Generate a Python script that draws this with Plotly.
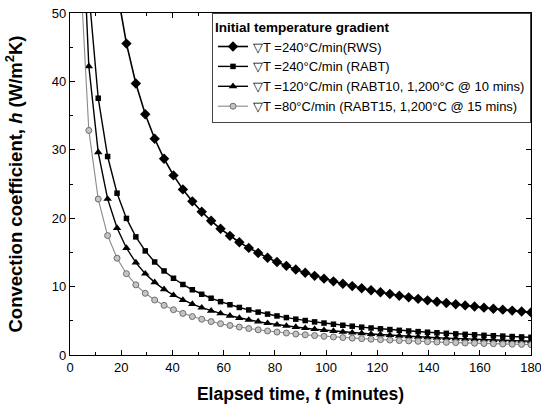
import plotly.graph_objects as go

# Elapsed time (minutes) at the plotted points
time_min = [0.00, 3.67, 7.35, 11.02, 14.69, 18.37, 22.04, 25.71, 29.39, 33.06,
            36.73, 40.41, 44.08, 47.76, 51.43, 55.10, 58.78, 62.45, 66.12, 69.80,
            73.47, 77.14, 80.82, 84.49, 88.16, 91.84, 95.51, 99.18, 102.86, 106.53,
            110.20, 113.88, 117.55, 121.22, 124.90, 128.57, 132.24, 135.92, 139.59, 143.27,
            146.94, 150.61, 154.29, 157.96, 161.63, 165.31, 168.98, 172.65, 176.33, 180.00]

# Convection coefficient h (W/m2K); None = off the chart top
h_rws = [None, None, None, None, 64.43, 53.35, 45.53, 39.70, 35.20, 31.61,
         28.69, 26.26, 24.21, 22.46, 20.94, 19.62, 18.45, 17.42, 16.49, 15.66,
         14.91, 14.22, 13.60, 13.03, 12.50, 12.02, 11.57, 11.16, 10.77, 10.41,
         10.07, 9.75, 9.46, 9.18, 8.91, 8.66, 8.43, 8.21, 7.99, 7.79,
         7.60, 7.42, 7.25, 7.08, 6.92, 6.77, 6.63, 6.49, 6.36, 6.23]

h_rabt = [None, 90.90, 53.13, 37.54, 29.02, 23.66, 19.97, 17.27, 15.22, 13.60,
          12.29, 11.22, 10.31, 9.54, 8.88, 8.30, 7.80, 7.35, 6.95, 6.59,
          6.27, 5.98, 5.71, 5.47, 5.24, 5.04, 4.84, 4.67, 4.50, 4.35,
          4.21, 4.07, 3.95, 3.83, 3.72, 3.61, 3.51, 3.42, 3.33, 3.25,
          3.17, 3.09, 3.02, 2.95, 2.88, 2.82, 2.76, 2.70, 2.64, 2.59]

h_rabt10 = [None, 73.40, 42.21, 29.63, 22.82, 18.56, 15.64, 13.51, 11.89, 10.62,
            9.60, 8.75, 8.04, 7.44, 6.92, 6.47, 6.08, 5.73, 5.41, 5.13,
            4.88, 4.65, 4.44, 4.25, 4.08, 3.92, 3.77, 3.63, 3.50, 3.38,
            3.27, 3.17, 3.07, 2.98, 2.89, 2.81, 2.73, 2.66, 2.59, 2.52,
            2.46, 2.40, 2.35, 2.29, 2.24, 2.19, 2.14, 2.10, 2.05, 2.01]

h_rabt15 = [None, 58.63, 32.83, 22.80, 17.46, 14.15, 11.89, 10.26, 9.02, 8.04,
            7.26, 6.62, 6.08, 5.62, 5.23, 4.88, 4.58, 4.32, 4.08, 3.87,
            3.68, 3.51, 3.35, 3.21, 3.07, 2.95, 2.84, 2.73, 2.64, 2.55,
            2.46, 2.39, 2.31, 2.24, 2.18, 2.11, 2.06, 2.00, 1.95, 1.90,
            1.85, 1.81, 1.76, 1.72, 1.68, 1.65, 1.61, 1.58, 1.55, 1.51]

series_names = ["▽T =240°C/min(RWS)",
                "▽T =240°C/min (RABT)",
                "▽T =120°C/min (RABT10, 1,200°C @ 10 mins)",
                "▽T =80°C/min (RABT15, 1,200°C @ 15 mins)"]

x_ticks = [0, 20, 40, 60, 80, 100, 120, 140, 160, 180]
y_ticks = [0, 10, 20, 30, 40, 50]

FONT = "Liberation Sans, Arial, sans-serif"

styles = [
    dict(line=dict(color="black", width=1.6), marker=dict(symbol="diamond", size=8, color="black")),
    dict(line=dict(color="black", width=1.4), marker=dict(symbol="square", size=5.5, color="black")),
    dict(line=dict(color="black", width=1.4), marker=dict(symbol="triangle-up", size=7.5, color="black")),
    dict(line=dict(color="#8a8a8a", width=1.1), marker=dict(symbol="circle", size=6, color="#c4c4c4",
                                                            line=dict(color="#6e6e6e", width=1))),
]

fig = go.Figure()
for name, ys, st in zip(series_names, [h_rws, h_rabt, h_rabt10, h_rabt15], styles):
    fig.add_trace(go.Scatter(x=time_min, y=ys, name=name, mode="lines+markers",
                             line=st["line"], marker=st["marker"], connectgaps=False))

axis_common = dict(
    showline=True, linecolor="black", linewidth=1.2, mirror="ticks",
    ticks="inside", ticklen=5, tickwidth=1, tickcolor="black",
    showgrid=False, zeroline=False, ticklabeloverflow="allow",
    tickfont=dict(family=FONT, size=13, color="black"),
)

fig.update_xaxes(**axis_common, range=[0, 180.0001], tickvals=x_ticks,
                 minor=dict(ticks="inside", ticklen=3, dtick=10, tickcolor="black"),
                 title=dict(text="<b>Elapsed time, <i>t</i> (minutes)</b>",
                            font=dict(family=FONT, size=17.5, color="black"), standoff=14))
fig.update_yaxes(**axis_common, range=[0, 50.0001], tickvals=y_ticks,
                 minor=dict(ticks="inside", ticklen=3, dtick=5, tickcolor="black"),
                 title=dict(text="<b>Convection coefficient, <i>h</i> (W/m<sup>2</sup>K)</b>",
                            font=dict(family=FONT, size=18.5, color="black"), standoff=24))

fig.update_layout(
    width=541, height=413,
    margin=dict(l=70, r=10, t=13, b=58, autoexpand=False),
    paper_bgcolor="white", plot_bgcolor="white",
    font=dict(family=FONT, color="black"),
    legend=dict(x=1, y=1, xanchor="right", yanchor="top",
                bgcolor="white", bordercolor="#444", borderwidth=1,
                font=dict(family=FONT, size=13, color="black"),
                title=dict(text="<b>Initial temperature gradient</b>",
                           font=dict(family=FONT, size=13.5, color="black")),
                itemwidth=30, tracegroupgap=0),
)

fig.write_html("out.html")
